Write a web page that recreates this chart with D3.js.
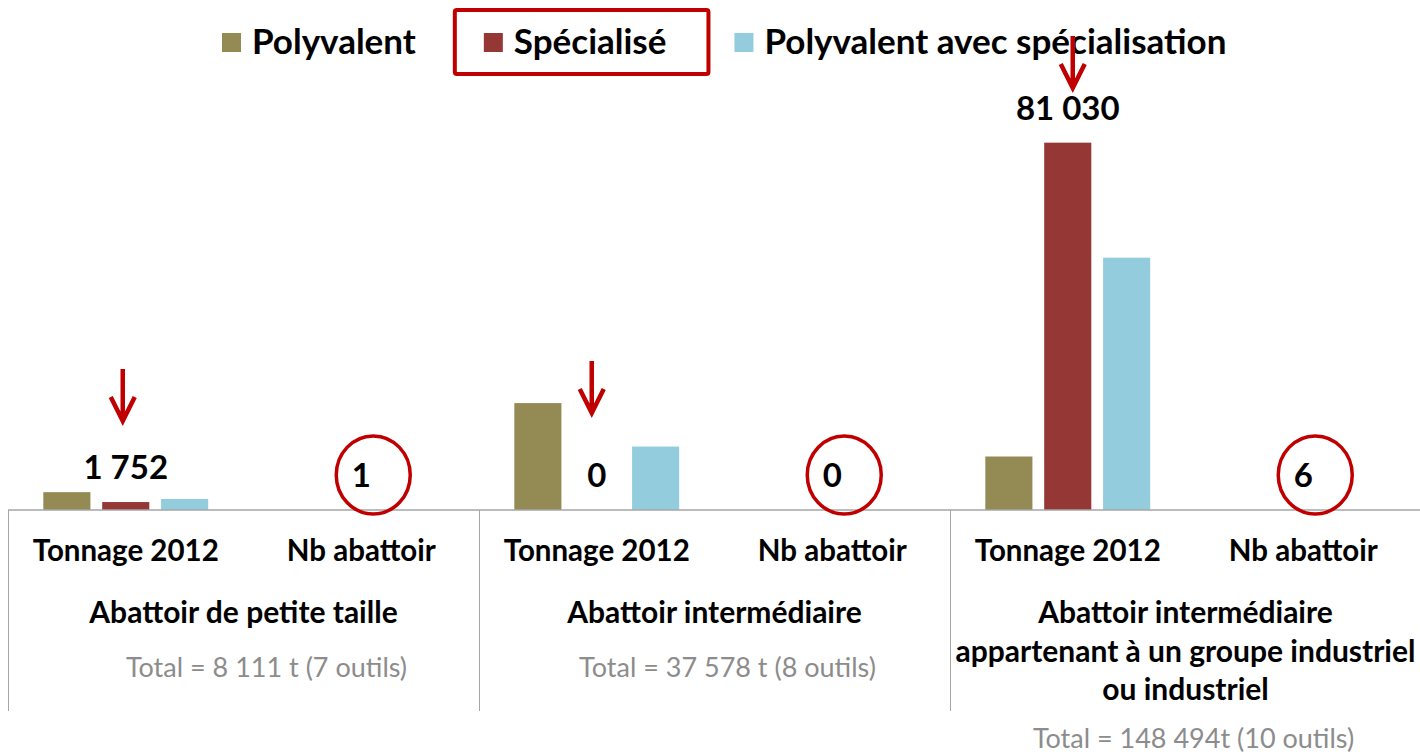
<!DOCTYPE html>
<html>
<head>
<meta charset="utf-8">
<script src="https://cdn.jsdelivr.net/npm/d3@7"></script>
<style>
  body { margin: 0; background: #fff; }
  svg { display: block; font-family: Lato, "Open Sans", sans-serif; }
  .lab { font-weight: bold; fill: #000; }
  .total { fill: #8c8c8c; }
</style>
</head>
<body>
<svg id="chart0"></svg>
<script>
// categories
var groups = ['petite', 'intermediaire', 'industriel'];
var group_lines = [
  ['Abattoir de petite taille'],
  ['Abattoir intermédiaire'],
  ['Abattoir intermédiaire', 'appartenant à un groupe industriel', 'ou industriel']
];
var totals = ['Total = 8 111 t (7 outils)', 'Total = 37 578 t (8 outils)', 'Total = 148 494t (10 outils)'];
var subcats = ['Tonnage 2012', 'Nb abattoir'];
var series = ['Polyvalent', 'Spécialisé', 'Polyvalent avec spécialisation'];

// valeurs (tonnage 2012)
var polyvalent = [3935, 23580, 11800];
var specialise = [1752, 0, 81030];
var poly_spec = [2424, 13998, 55664];
// nombre d'abattoirs spécialisés
var nb_abattoir = [1, 0, 6];

var colors = ['#948a54', '#953735', '#93cddd'];
var red = '#c00000';

var width = 1420, height = 755;
var base_y = 510;

var svg = d3.select('#chart0')
  .attr('width', width)
  .attr('height', height);

var x_group = d3.scaleBand()
  .domain(groups)
  .range([8, 1421])
  .padding(0);

var x_sub = d3.scaleBand()
  .domain(subcats)
  .range([0, x_group.bandwidth()])
  .padding(0);

var x_bar = d3.scaleBand()
  .domain(series)
  .range([0, x_sub.bandwidth()])
  .paddingInner(0.2)
  .paddingOuter(0.6);

var y_conv = d3.scaleLinear()
  .domain([0, 90000])
  .range([base_y, 102]);

var fr = d3.formatLocale({decimal: ',', thousands: ' ', grouping: [3], currency: ['', '']});
var fmt = fr.format(',');

var values = [polyvalent, specialise, poly_spec];

var bars = [];
series.forEach(function(s, si) {
  groups.forEach(function(g, gi) {
    bars.push({serie: s, si: si, group: g, value: values[si][gi]});
  });
});

// barres
svg.selectAll('rect.bar')
  .data(bars).enter()
  .append('rect')
  .attr('class', 'bar')
  .attr('x', function(d) { return x_group(d.group) + x_sub('Tonnage 2012') + x_bar(d.serie); })
  .attr('y', function(d) { return y_conv(d.value); })
  .attr('width', x_bar.bandwidth())
  .attr('height', function(d) { return base_y - y_conv(d.value); })
  .attr('fill', function(d) { return colors[d.si]; });

// axe horizontal + séparateurs
svg.append('line')
  .attr('x1', x_group.range()[0]).attr('x2', width)
  .attr('y1', base_y).attr('y2', base_y)
  .attr('stroke', '#a6a6a6').attr('stroke-width', 1.5);

svg.selectAll('line.sep')
  .data(groups).enter()
  .append('line')
  .attr('class', 'sep')
  .attr('x1', function(g) { return Math.round(x_group(g)) + 0.5; })
  .attr('x2', function(g) { return Math.round(x_group(g)) + 0.5; })
  .attr('y1', base_y).attr('y2', 711)
  .attr('stroke', '#a6a6a6').attr('stroke-width', 1);

// libellés sous-catégories
groups.forEach(function(g) {
  svg.selectAll(null)
    .data(subcats).enter()
    .append('text')
    .attr('class', 'lab')
    .attr('x', function(s) { return x_group(g) + x_sub(s) + x_sub.bandwidth() / 2; })
    .attr('y', 561)
    .attr('text-anchor', 'middle')
    .style('font-size', '29.5px')
    .text(function(s) { return s; });
});

// libellés groupes
groups.forEach(function(g, gi) {
  svg.selectAll(null)
    .data(group_lines[gi]).enter()
    .append('text')
    .attr('class', 'lab')
    .attr('x', x_group(g) + x_group.bandwidth() / 2)
    .attr('y', function(d, i) { return 623 + i * 38.5; })
    .attr('text-anchor', 'middle')
    .style('font-size', '30px')
    .text(function(d) { return d; });
});

// totaux
var total_dx = [23, 13, 8];
var total_y = [677, 677, 748];
svg.selectAll('text.total')
  .data(totals).enter()
  .append('text')
  .attr('class', 'total')
  .attr('x', function(d, i) { return x_group(groups[i]) + x_group.bandwidth() / 2 + total_dx[i]; })
  .attr('y', function(d, i) { return total_y[i]; })
  .attr('text-anchor', 'middle')
  .style('font-size', '27px')
  .text(function(d) { return d; });

// étiquettes spécialisé
svg.selectAll('text.val')
  .data(groups).enter()
  .append('text')
  .attr('class', 'lab val')
  .attr('x', function(g) { return x_group(g) + x_sub('Tonnage 2012') + x_bar('Spécialisé') + x_bar.bandwidth() / 2; })
  .attr('y', function(g, i) { return y_conv(specialise[i]) - 23; })
  .attr('text-anchor', 'middle')
  .style('font-size', '33px')
  .text(function(g, i) { return fmt(specialise[i]); });

// nb abattoir + cercles
svg.selectAll('text.nb')
  .data(groups).enter()
  .append('text')
  .attr('class', 'lab nb')
  .attr('x', function(g) { return x_group(g) + x_sub('Nb abattoir') + x_sub.bandwidth() / 2; })
  .attr('y', function(g, i) { return y_conv(nb_abattoir[i]) - 23; })
  .attr('text-anchor', 'middle')
  .style('font-size', '33px')
  .text(function(g, i) { return nb_abattoir[i]; });

svg.selectAll('ellipse.circ')
  .data(groups).enter()
  .append('ellipse')
  .attr('class', 'circ')
  .attr('cx', function(g) { return x_group(g) + x_sub('Nb abattoir') + x_sub.bandwidth() / 2 + 12; })
  .attr('cy', function(g, i) { return y_conv(nb_abattoir[i]) - 35; })
  .attr('rx', 37).attr('ry', 39)
  .attr('fill', 'none')
  .attr('stroke', red)
  .attr('stroke-width', 3.5);

// flèches
var arrow_dx = [-3, -5, 5];
var arrow_tip = [421, 413, 88];
svg.selectAll('path.arrow')
  .data(groups).enter()
  .append('path')
  .attr('class', 'arrow')
  .attr('d', function(g, i) {
    var x = x_group(g) + x_sub('Tonnage 2012') + x_bar('Spécialisé') + x_bar.bandwidth() / 2 + arrow_dx[i];
    var t = arrow_tip[i];
    return 'M' + x + ',' + (t - 52) + 'V' + (t - 2) +
      'M' + (x - 12) + ',' + (t - 24) + 'L' + x + ',' + t + 'L' + (x + 12) + ',' + (t - 24);
  })
  .attr('fill', 'none')
  .attr('stroke', red)
  .attr('stroke-width', 4.5);

// légende
var legend = svg.append('g');
var lx = 222;
series.forEach(function(s, i) {
  var item = legend.append('g');
  item.append('rect')
    .attr('x', lx).attr('y', 33)
    .attr('width', 19).attr('height', 19)
    .attr('fill', colors[i]);
  var t = item.append('text')
    .attr('class', 'lab')
    .attr('x', lx + 30).attr('y', 54)
    .style('font-size', '35px')
    .text(s);
  var w = t.node().getComputedTextLength();
  if (s == 'Spécialisé') {
    svg.append('rect')
      .attr('x', lx - 29).attr('y', 10)
      .attr('width', w + 30 + 29 + 42).attr('height', 64)
      .attr('fill', 'none')
      .attr('stroke', red)
      .attr('stroke-width', 4)
      .attr('rx', 2);
  }
  lx += 30 + w + 68;
});
// arrow over legend should sit on top
svg.selectAll('path.arrow').raise();
</script>
</body>
</html>
